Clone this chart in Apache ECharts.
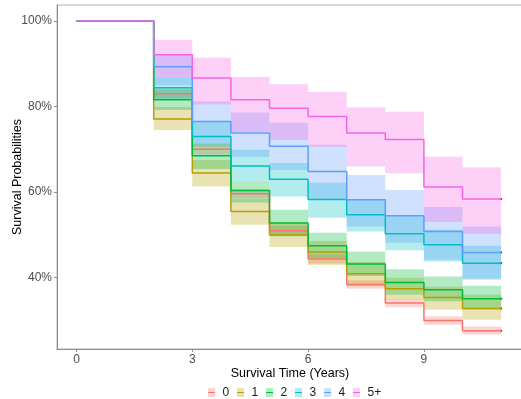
<!DOCTYPE html>
<html>
<head>
<meta charset="utf-8">
<script src="https://cdn.jsdelivr.net/npm/echarts@6/dist/echarts.min.js"></script>
<style>
  html, body { margin: 0; padding: 0; background: #fff; }
  #chart { width: 521px; height: 399px; }
</style>
</head>
<body>
<div id="chart"></div>
<script>
// Kaplan-Meier step values (%) per interval [t_i, t_{i+1}); last value holds to t = 11
const times = [0, 2, 3, 4, 5, 6, 7, 8, 9, 10, 11];
const groups = ['0', '1', '2', '3', '4', '5+'];
const colors = ['#F8766D', '#B79F00', '#00BA38', '#00BFC4', '#619CFF', '#F564E3'];

const surv0  = [100, 83.0, 70.0, 59.6, 51.0, 44.4, 38.4, 34.1, 30.0, 27.6];
const upper0 = [100, 84.3, 71.2, 60.7, 52.1, 45.5, 39.4, 35.1, 31.0, 28.6];
const lower0 = [100, 81.8, 68.8, 58.5, 49.9, 43.3, 37.4, 33.1, 29.0, 26.7];

const surv1  = [100, 77.1, 64.5, 55.5, 50.0, 46.0, 40.9, 37.4, 35.4, 32.8];
const upper1 = [100, 79.9, 67.5, 58.4, 52.8, 48.6, 43.7, 40.0, 37.9, 36.0];
const lower1 = [100, 74.5, 61.3, 52.4, 47.2, 43.0, 38.0, 34.9, 32.5, 30.2];

const surv2  = [100, 81.6, 68.5, 60.4, 52.8, 47.5, 43.2, 38.9, 37.2, 35.1];
const upper2 = [100, 84.0, 71.5, 62.5, 55.9, 50.5, 46.1, 42.0, 40.3, 38.1];
const lower2 = [100, 79.2, 65.4, 57.6, 49.7, 44.6, 40.4, 36.0, 34.5, 32.6];

const surv3  = [100, 84.4, 73.0, 66.1, 63.0, 58.3, 54.7, 50.3, 47.7, 43.4];
const upper3 = [100, 86.7, 76.5, 69.9, 66.8, 62.2, 58.2, 54.5, 51.2, 47.5];
const lower3 = [100, 81.8, 70.7, 62.5, 59.0, 54.0, 50.8, 46.4, 43.8, 39.5];

const surv4  = [100, 89.3, 76.5, 73.8, 70.7, 64.8, 58.2, 54.5, 50.8, 45.9];
const upper4 = [100, 92.1, 81.2, 78.6, 76.2, 71.1, 64.0, 60.5, 56.5, 52.0];
const lower4 = [100, 85.0, 71.5, 68.2, 65.2, 58.2, 52.0, 48.2, 44.2, 39.8];

const surv5  = [100, 92.1, 86.7, 81.6, 79.6, 77.7, 73.8, 72.3, 61.2, 58.4];
const upper5 = [100, 95.6, 91.4, 86.9, 85.2, 83.4, 79.8, 78.8, 68.3, 65.8];
const lower5 = [100, 86.7, 80.5, 74.1, 72.2, 70.6, 66.0, 64.4, 53.0, 50.3];

const xTicks = [0, 3, 6, 9];
const yTicks = [40, 60, 80, 100];

const survAll  = [surv0, surv1, surv2, surv3, surv4, surv5];
const upperAll = [upper0, upper1, upper2, upper3, upper4, upper5];
const lowerAll = [lower0, lower1, lower2, lower3, lower4, lower5];

function rgba(hex, a) {
  const n = parseInt(hex.slice(1), 16);
  return 'rgba(' + ((n >> 16) & 255) + ',' + ((n >> 8) & 255) + ',' + (n & 255) + ',' + a + ')';
}

const FONT = 'Liberation Sans, Arial, sans-serif';
const series = [];

// confidence ribbons: one rectangle per step interval
groups.forEach((g, k) => {
  const data = [];
  for (let i = 0; i < times.length - 1; i++) {
    if (upperAll[k][i] !== lowerAll[k][i]) {
      data.push([times[i], times[i + 1], lowerAll[k][i], upperAll[k][i]]);
    }
  }
  const fill = rgba(colors[k], 0.3);
  series.push({
    type: 'custom',
    name: g,
    silent: true,
    clip: true,
    encode: { x: [0, 1], y: [2, 3] },
    data: data,
    renderItem: function (params, api) {
      const a = api.coord([api.value(0), api.value(3)]);
      const b = api.coord([api.value(1), api.value(2)]);
      return {
        type: 'rect',
        shape: { x: a[0], y: a[1], width: b[0] - a[0], height: b[1] - a[1] },
        style: { fill: fill }
      };
    }
  });
});

// survival step curves
groups.forEach((g, k) => {
  const vals = survAll[k].concat([survAll[k][survAll[k].length - 1]]);
  series.push({
    type: 'line',
    name: g,
    step: 'end',
    symbol: 'none',
    silent: true,
    animation: false,
    lineStyle: { color: colors[k], width: 1.5 },
    data: times.map((t, i) => [t, vals[i]])
  });
});

// censoring marks at end of follow-up
series.push({
  type: 'scatter',
  silent: true,
  symbol: 'rect',
  symbolSize: [2, 2],
  itemStyle: { color: '#333' },
  data: survAll.map(s => [times[times.length - 1], s[s.length - 1]])
});

// legend keys
const legendGraphics = [];
const keyStart = 208, keyStep = 29, keyY = 392.5;
groups.forEach((g, k) => {
  const x = keyStart + k * keyStep;
  legendGraphics.push({
    type: 'rect', shape: { x: x, y: keyY - 4.5, width: 7, height: 9 },
    style: { fill: rgba(colors[k], 0.3) }, silent: true
  });
  legendGraphics.push({
    type: 'line', shape: { x1: x, y1: keyY, x2: x + 7, y2: keyY },
    style: { stroke: colors[k], lineWidth: 1 }, silent: true
  });
  legendGraphics.push({
    type: 'text', x: x + 14.5, y: keyY,
    style: { text: g, font: '12px ' + FONT, fill: '#1a1a1a', verticalAlign: 'middle', align: 'left' },
    silent: true
  });
});

const chart = echarts.init(document.getElementById('chart'), null, { renderer: 'canvas' });
chart.setOption({
  animation: false,
  backgroundColor: '#ffffff',
  grid: {
    left: 57, top: 5, width: 466, bottom: 50,
    outerBoundsMode: 'none',
    containLabel: false,
    show: true, borderColor: '#b3b3b3', borderWidth: 1, backgroundColor: 'transparent'
  },
  xAxis: {
    type: 'value',
    min: -0.505, max: 11.567,
    name: 'Survival Time (Years)',
    nameLocation: 'middle',
    nameGap: 18,
    nameMoveOverlap: false,
    nameTextStyle: { color: '#000', fontSize: 12.5, fontFamily: FONT, verticalAlign: 'top' },
    splitLine: { show: false },
    axisLine: { show: true, onZero: false, lineStyle: { color: '#8c8c8c', width: 1 } },
    axisTick: { show: true, length: 3, customValues: xTicks, lineStyle: { color: '#8c8c8c' } },
    axisLabel: { customValues: xTicks, color: '#4d4d4d', fontSize: 12, fontFamily: FONT, margin: 5 }
  },
  yAxis: {
    type: 'value',
    min: 23.34, max: 103.74,
    name: 'Survival Probabilities',
    nameLocation: 'middle',
    nameGap: 33,
    nameRotate: 90,
    nameMoveOverlap: false,
    nameTextStyle: { color: '#000', fontSize: 12.5, fontFamily: FONT },
    splitLine: { show: false },
    axisLine: { show: true, onZero: false, lineStyle: { color: '#8c8c8c', width: 1 } },
    axisTick: { show: true, length: 3, customValues: yTicks, lineStyle: { color: '#8c8c8c' } },
    axisLabel: {
      customValues: yTicks, color: '#4d4d4d', fontSize: 12, fontFamily: FONT, margin: 5,
      formatter: v => Math.round(v) + '%'
    }
  },
  graphic: legendGraphics,
  series: series
});
</script>
</body>
</html>
